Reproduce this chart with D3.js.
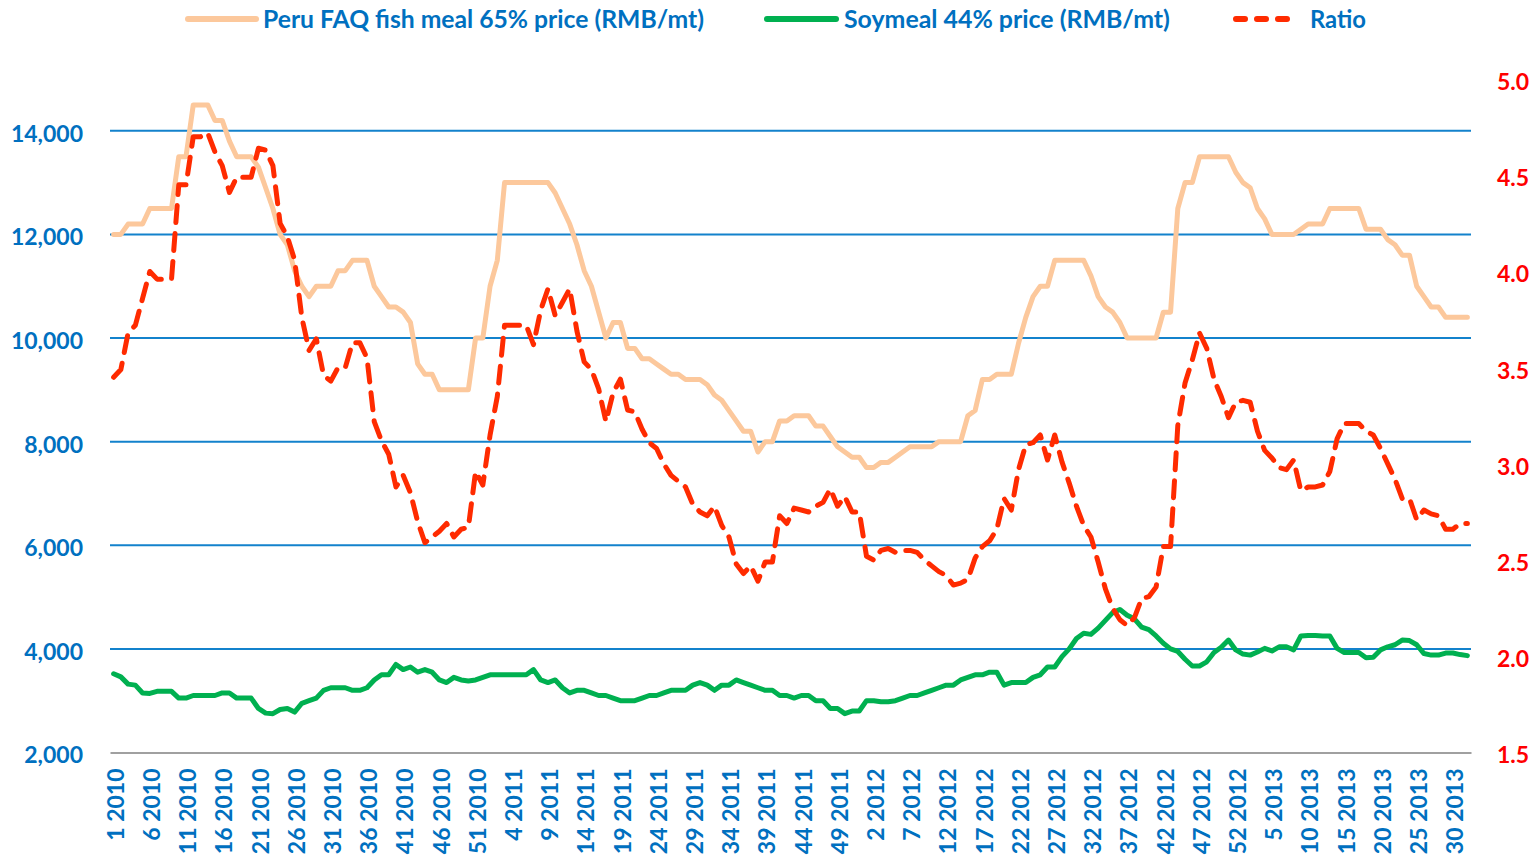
<!DOCTYPE html>
<html><head><meta charset="utf-8">
<script src="https://cdn.jsdelivr.net/npm/d3@7"></script>
<style>
body{margin:0;background:#fff}
text{font-family:Lato,'Open Sans',sans-serif;font-weight:700}
</style>
</head><body><svg id="c" width="1540" height="858"></svg>
<script>
// ---------------- data ----------------
const years = [2010, 2011, 2012, 2013];
const weeksPerYear = [52, 52, 52, 32];
const labelEvery = 5;

const seriesNames = ["Peru FAQ fish meal 65% price (RMB/mt)", "Soymeal 44% price (RMB/mt)", "Ratio"];

const fishMeal = [
 12000,12000,12200,12200,12200,12500,12500,12500,12500,13500,
 13500,14500,14500,14500,14200,14200,13800,13500,13500,13500,
 13300,12900,12500,12000,11800,11300,11000,10800,11000,11000,
 11000,11300,11300,11500,11500,11500,11000,10800,10600,10600,
 10500,10300,9500,9300,9300,9000,9000,9000,9000,9000,
 10000,10000,11000,11500,13000,13000,13000,13000,13000,13000,
 13000,12800,12500,12200,11800,11300,11000,10500,10000,10300,
 10300,9800,9800,9600,9600,9500,9400,9300,9300,9200,
 9200,9200,9100,8900,8800,8600,8400,8200,8200,7800,
 8000,8000,8400,8400,8500,8500,8500,8300,8300,8100,
 7900,7800,7700,7700,7500,7500,7600,7600,7700,7800,
 7900,7900,7900,7900,8000,8000,8000,8000,8500,8600,
 9200,9200,9300,9300,9300,9900,10400,10800,11000,11000,
 11500,11500,11500,11500,11500,11200,10800,10600,10500,10300,
 10000,10000,10000,10000,10000,10500,10500,12500,13000,13000,
 13500,13500,13500,13500,13500,13200,13000,12900,12500,12300,
 12000,12000,12000,12000,12100,12200,12200,12200,12500,12500,
 12500,12500,12500,12100,12100,12100,11900,11800,11600,11600,
 11000,10800,10600,10600,10400,10400,10400,10400
];

const soymeal = [
 3520,3460,3320,3300,3150,3140,3180,3180,3180,3050,
 3050,3100,3100,3100,3100,3150,3150,3050,3050,3050,
 2850,2760,2750,2830,2850,2780,2950,3000,3050,3200,
 3250,3250,3250,3200,3200,3250,3400,3500,3500,3700,
 3600,3650,3550,3600,3550,3400,3350,3450,3400,3380,
 3400,3450,3500,3500,3500,3500,3500,3500,3600,3400,
 3350,3400,3250,3150,3200,3200,3150,3100,3100,3050,
 3000,3000,3000,3050,3100,3100,3150,3200,3200,3200,
 3300,3350,3300,3200,3300,3300,3400,3350,3300,3250,
 3200,3200,3100,3100,3050,3100,3100,3000,3000,2850,
 2850,2750,2800,2800,3000,3000,2980,2980,3000,3050,
 3100,3100,3150,3200,3250,3300,3300,3400,3450,3500,
 3500,3550,3550,3300,3350,3350,3350,3450,3500,3650,
 3650,3850,4000,4200,4300,4280,4400,4550,4700,4760,
 4650,4580,4420,4370,4250,4110,4000,3950,3800,3670,
 3670,3750,3930,4030,4170,3980,3900,3880,3940,4010,
 3960,4040,4040,3980,4250,4260,4260,4250,4250,4010,
 3930,3930,3930,3830,3840,3980,4040,4080,4170,4160,
 4080,3910,3880,3880,3920,3920,3890,3870
];

const ratio = [
 3.45,3.49,3.68,3.72,3.86,4.00,3.96,3.96,3.96,4.45,
 4.45,4.70,4.70,4.72,4.62,4.55,4.41,4.49,4.49,4.49,
 4.64,4.63,4.55,4.25,4.18,4.06,3.76,3.59,3.65,3.46,
 3.43,3.50,3.50,3.63,3.63,3.55,3.22,3.12,3.05,2.88,
 2.94,2.85,2.70,2.59,2.62,2.65,2.69,2.62,2.66,2.67,
 2.96,2.89,3.15,3.35,3.72,3.72,3.72,3.72,3.62,3.80,
 3.91,3.77,3.84,3.91,3.69,3.53,3.49,3.39,3.22,3.37,
 3.44,3.28,3.27,3.18,3.11,3.08,3.00,2.94,2.91,2.88,
 2.79,2.75,2.73,2.78,2.68,2.62,2.48,2.43,2.47,2.39,
 2.49,2.49,2.73,2.69,2.77,2.76,2.75,2.78,2.80,2.87,
 2.78,2.83,2.75,2.75,2.52,2.50,2.55,2.56,2.54,2.55,
 2.55,2.54,2.50,2.47,2.44,2.42,2.37,2.38,2.40,2.51,
 2.57,2.60,2.66,2.82,2.76,2.97,3.10,3.11,3.15,3.02,
 3.15,3.01,2.90,2.78,2.68,2.62,2.49,2.35,2.25,2.19,
 2.16,2.20,2.30,2.31,2.36,2.57,2.57,3.20,3.42,3.54,
 3.68,3.60,3.44,3.35,3.24,3.32,3.33,3.32,3.17,3.07,
 3.03,2.98,2.97,3.02,2.86,2.88,2.88,2.89,2.96,3.13,
 3.21,3.21,3.21,3.17,3.15,3.08,3.00,2.92,2.82,2.82,
 2.71,2.76,2.74,2.73,2.66,2.66,2.69,2.69
];

const leftTicks = [2000, 4000, 6000, 8000, 10000, 12000, 14000];
const leftDomain = [2000, 15000];
const rightTicks = [1.5, 2.0, 2.5, 3.0, 3.5, 4.0, 4.5, 5.0];
const rightDomain = [1.5, 5.0];

// ---------------- build ----------------
const categories = [];
years.forEach((y, k) => { for (let w = 1; w <= weeksPerYear[k]; w++) categories.push(w + " " + y); });
const shownLabels = categories.filter((d, i) => i % labelEvery === 0);

const BLUE = "#0070C0", GRID = "#1382CC", RED = "#FF0000";
const PEACH = "#FCC89C", GREEN = "#00B050", RATIO = "#FF2B00";
const FS = 23;

const svg = d3.select("#c");
const L = 110, R = 1471, T = 79, B = 752.5;

const x = d3.scaleBand().domain(categories).range([L, R]);
const xc = d => x(d) + x.bandwidth() / 2;
const yL = d3.scaleLinear().domain(leftDomain).range([B, T]);
const yR = d3.scaleLinear().domain(rightDomain).range([B, T]);

// gridlines
svg.append("g").selectAll("line").data(leftTicks.filter(v => v > leftDomain[0])).join("line")
  .attr("x1", L).attr("x2", R).attr("y1", d => yL(d)).attr("y2", d => yL(d))
  .attr("stroke", GRID).attr("stroke-width", 2);

// left axis
const gL = svg.append("g").attr("transform", `translate(${L},0)`)
  .call(d3.axisLeft(yL).tickValues(leftTicks).tickFormat(d3.format(",")).tickSize(0).tickPadding(27));
gL.select(".domain").remove();
gL.selectAll("text").attr("fill", BLUE).style("font-size", FS + "px").attr("dy", "0.45em");

// right axis
const gR = svg.append("g").attr("transform", `translate(${R},0)`)
  .call(d3.axisRight(yR).tickValues(rightTicks).tickFormat(d3.format(".1f")).tickSize(0).tickPadding(26));
gR.select(".domain").remove();
gR.selectAll("text").attr("fill", RED).style("font-size", FS + "px").attr("dy", "0.45em");

// bottom axis
const gB = svg.append("g").attr("transform", `translate(0,${B})`)
  .call(d3.axisBottom(x).tickValues(shownLabels).tickSize(0));
gB.select(".domain").attr("stroke", "#A0A0A0").attr("stroke-width", 2);
gB.selectAll("text")
  .attr("fill", BLUE).style("font-size", FS + "px")
  .attr("transform", "rotate(-90)")
  .attr("x", -16).attr("y", 2).attr("dy", "0.36em")
  .style("text-anchor", "end");

// lines
const lineL = d3.line().x((d, i) => xc(categories[i])).y(d => yL(d));
const lineR = d3.line().x((d, i) => xc(categories[i])).y(d => yR(d));

svg.append("path").datum(fishMeal).attr("d", lineL).attr("fill", "none")
  .attr("stroke", PEACH).attr("stroke-width", 5).attr("stroke-linejoin", "round").attr("stroke-linecap", "round");
svg.append("path").datum(soymeal).attr("d", lineL).attr("fill", "none")
  .attr("stroke", GREEN).attr("stroke-width", 5).attr("stroke-linejoin", "round").attr("stroke-linecap", "round");
svg.append("path").datum(ratio).attr("d", lineR).attr("fill", "none")
  .attr("stroke", RATIO).attr("stroke-width", 5).attr("stroke-linejoin", "round").attr("stroke-linecap", "round")
  .attr("stroke-dasharray", "17,11");

// legend
const legend = [
  {name: seriesNames[0], color: PEACH, x1: 188, x2: 256, tx: 263, w: 441, dash: null},
  {name: seriesNames[1], color: GREEN, x1: 767, x2: 836, tx: 844, w: 326, dash: null},
  {name: seriesNames[2], color: RATIO, x1: 1236, x2: 1297, tx: 1310, w: 56, dash: "9,12"}
];
const lg = svg.append("g");
legend.forEach(d => {
  const ln = lg.append("line").attr("x1", d.x1).attr("x2", d.x2).attr("y1", 19).attr("y2", 19)
    .attr("stroke", d.color).attr("stroke-width", 6).attr("stroke-linecap", "round");
  if (d.dash) ln.attr("stroke-dasharray", d.dash);
  const t = lg.append("text").attr("x", d.tx).attr("y", 28).attr("fill", BLUE)
    .style("font-size", FS + "px").text(d.name);
  const w = t.node().getComputedTextLength();
  if (w > 0) t.style("font-size", (FS * d.w / w).toFixed(2) + "px");
});
</script>
</body></html>
